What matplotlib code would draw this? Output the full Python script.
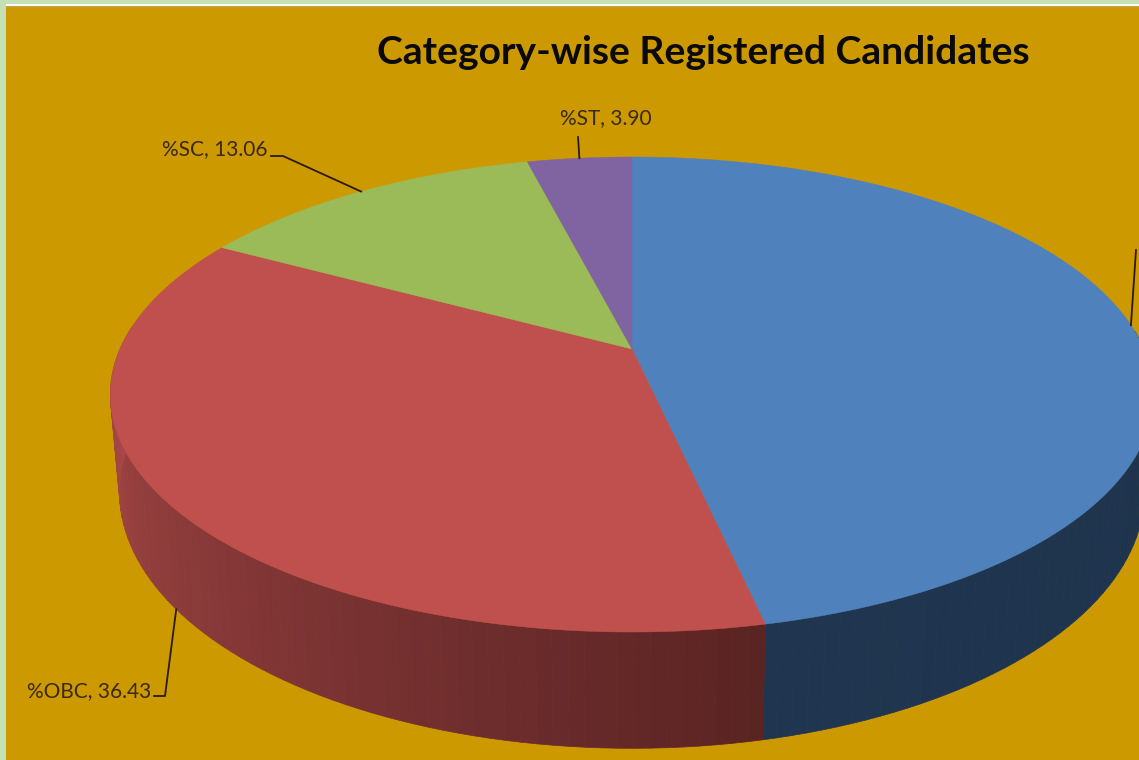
#!/usr/bin/env python
import numpy as np
import matplotlib
matplotlib.use("Agg")
import matplotlib.pyplot as plt
from matplotlib.patches import Polygon, Rectangle

title = "Category-wise Registered Candidates"
categories = ["%GEN", "%OBC", "%SC", "%ST"]
values = [46.61, 36.43, 13.06, 3.90]
top_colors = ["#4F81BD", "#C0504D", "#9BBB59", "#8064A2"]

# side wall shade at start and end of a slice, going clockwise from the top
wall_from = {"%GEN": "#1B3048", "%OBC": "#5A2423"}
wall_to = {"%GEN": "#203650", "%OBC": "#C25354"}

# pie projection, in pixels
CX, CY = 632, 349
RX, RY = 512, 228.8
PERSP = 0.1916
RX_LOW, DEPTH = 503, 94

BG = "#CC9900"
TEXT = "#3B2A12"
LEADER = "#2B1A10"


def project(theta, lower=False):
    """Angle clockwise from the top (degrees) to a point on the pie rim"""
    t = np.radians(theta)
    x, y = np.sin(t), np.cos(t)
    w = 1 + PERSP * y
    if lower:
        return CX + RX_LOW * x / w, CY - RY * y / w + DEPTH / w
    return CX + RX * x / w, CY - RY * y / w


def mix(c1, c2, f):
    a = np.array(matplotlib.colors.to_rgb(c1))
    b = np.array(matplotlib.colors.to_rgb(c2))
    return tuple(a + (b - a) * f)


def main():
    fig = plt.figure(figsize=(11.39, 7.6), dpi=100, facecolor="#C5E0B4")
    ax = fig.add_axes([0, 0, 1, 1])
    ax.set_xlim(0, 1139)
    ax.set_ylim(760, 0)
    ax.axis("off")

    # page frame around the chart
    ax.add_patch(Rectangle((6, 4), 1133, 2, fc="white", ec="none"))
    ax.add_patch(Rectangle((6, 6), 1133, 1, fc="#B8A25A", ec="none"))
    ax.add_patch(Rectangle((6, 7), 1133, 753, fc=BG, ec="none"))

    edges = np.cumsum([0] + values) * 3.6

    # side wall, cut in narrow strips for the shading
    for name, start, end in zip(categories, edges[:-1], edges[1:]):
        if name not in wall_from:
            continue
        steps = np.arange(start, end, 1.5)
        steps = np.append(steps, end)
        for a, b in zip(steps[:-1], steps[1:]):
            # back of the wall is hidden behind the top face
            if np.cos(np.radians(a)) > 0.1:
                continue
            col = mix(wall_from[name], wall_to[name], (a - start) / (end - start))
            pts = [project(a), project(b), project(b, True), project(a, True)]
            ax.add_patch(Polygon(pts, fc=col, ec=col, lw=0.5))

    # top face
    for col, start, end in zip(top_colors, edges[:-1], edges[1:]):
        thetas = np.linspace(start, end, 200)
        pts = [(CX, CY)] + [project(t) for t in thetas]
        ax.add_patch(Polygon(pts, fc=col, ec=col, lw=0.3))

    # leader lines start at the middle of each slice
    mids = (edges[:-1] + edges[1:]) / 2

    x0, y0 = project(mids[0])
    ax.plot([x0, 1136], [y0, 250], color=LEADER, lw=1.3)

    x0, y0 = project(mids[1], True)
    ax.plot([x0, 165, 154], [y0, 696, 696], color=LEADER, lw=1.3)
    ax.text(27, 691, "%s, %.2f" % (categories[1], values[1]), color=TEXT,
            fontsize=15, family="Lato", va="center")

    x0, y0 = project(mids[2])
    ax.plot([x0, 283, 271], [y0, 156, 156], color=LEADER, lw=1.3)
    ax.text(162, 149, "%s, %.2f" % (categories[2], values[2]), color=TEXT,
            fontsize=15, family="Lato", va="center")

    x0, y0 = project(mids[3])
    ax.plot([x0, 578], [y0, 137], color=LEADER, lw=1.3)
    ax.text(606, 118, "%s, %.2f" % (categories[3], values[3]), color=TEXT,
            fontsize=15, family="Lato", va="center", ha="center")

    ax.text(703, 53, title, color="#0A0A0A", fontsize=28.1, family="Lato",
            fontweight="bold", ha="center", va="center")

    fig.savefig("out.png", dpi=100, facecolor=fig.get_facecolor())


if __name__ == "__main__":
    main()
